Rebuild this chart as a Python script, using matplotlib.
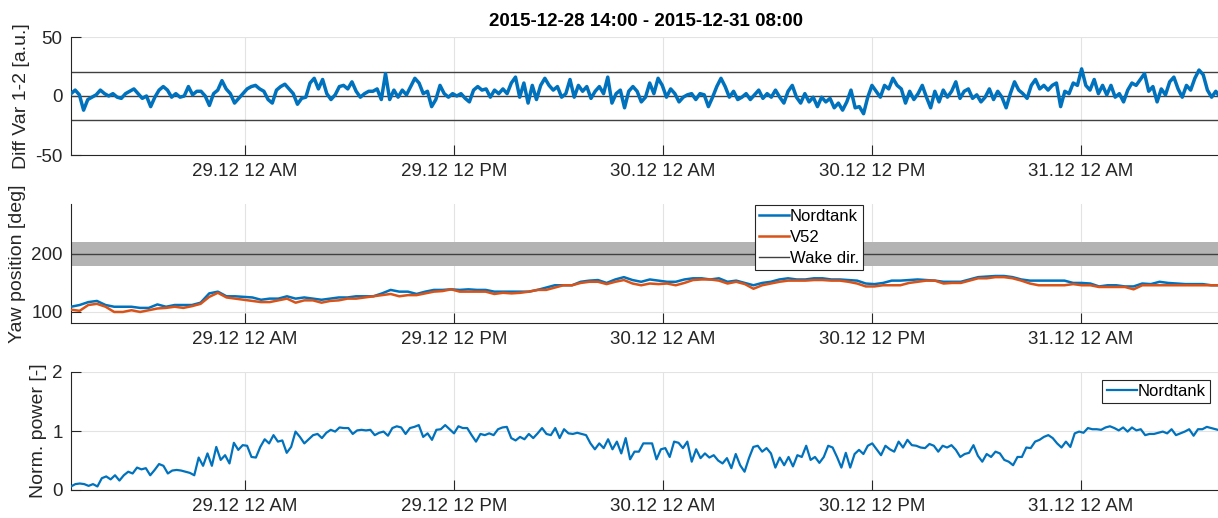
import numpy as np
import pandas as pd
import matplotlib
matplotlib.use('Agg')
import matplotlib.pyplot as plt
import matplotlib.dates as mdates

plt.rcParams['font.family'] = ['Liberation Sans', 'DejaVu Sans']
plt.rcParams['axes.unicode_minus'] = False

T_START = pd.Timestamp('2015-12-28 14:00')
T_END = pd.Timestamp('2015-12-31 08:00')

# difference signal (panel 1)
diff_var = [2, 5, 1, -12, -3, -1, 1, 5, 2, 0, 2, -1, -2, 2, 4, 6, 2, -2, 0, -9,
            -1, 5, 8, 5, -1, 2, -1, 0, 8, 1, 4, 4, 0, -8, 2, 5, 13, 6, 2, -6,
            -2, 2, 6, 8, 9, 6, 4, -3, -6, 5, 8, 10, 6, 2, -7, -2, -1, 11, 15, 6,
            14, 2, -3, 1, 8, 9, 6, 12, 4, -1, 2, 4, 4, 6, -3, 19, -3, 5, -1, 5,
            1, 8, 15, 11, 2, 4, -9, -3, 9, 2, -1, 2, 0,
            2, -2, -5, 5, 8, 5, 6, -1, 5, 2, 6, 2, 11, 16, -1, 11, -6, 9, -3, 9,
            15, 9, 5, 8, -1, 2, 14, -1, 9, 4, 8, -2, 4, 8, 2, 16, -6, 2, 5, -10,
            4, 8, 4, -5, -1, 11, 2, 15, 9, -1, 6, 2, -5, -1, 1, 2, -3, 2, 1, -9,
            -1, 8, 15, 8, -1, 4, -3, -1, 2, -3, 1, 5, -2, 2, -1, 5, -1, -6, 4, 9,
            -1, -6, 2, -5, -1, -9, -1, -5, -2, -10, -6,
            -12, -5, 5, -10, -9, -15, -1, 9, 4, -1, 9, 6, 15, 9, 6, -6, 4, -3, 2, 9,
            -1, -10, 4, -5, 5, -1, 4, 12, -2, 4, 6, -2, 1, -5, -1, 6, -3, 4, -1, -10,
            2, 12, 5, 2, -2, 9, 14, 6, 9, 5, 9, 11, -9, 4, 2, 11, 9, 23, 9, 5,
            14, 2, 9, 1, 9, -1, 2, -5, 5, 11, 9, 14, 19, 4, 8, -5, 6, 1, 12, 16,
            6, -1, 9, 5, 15, 22, 18, 5, -1, 4, -1]
diff_limits = [-20, 0, 20]

# yaw positions (panel 2)
yaw_nordtank = [109, 112, 117, 119, 112, 109, 109, 109, 107, 107,
                113, 109, 112, 112, 112, 116, 132, 135, 127, 127,
                126, 125, 121, 123, 123, 127, 123, 125, 123, 121,
                123, 125, 125, 127, 127, 127, 132, 138, 135, 135,
                131, 135, 138, 138, 139, 138, 139, 138, 138, 135,
                135, 135, 135, 135, 138, 142, 146, 146, 146, 152,
                154, 155, 150,
                156, 160, 155, 152, 156, 154, 152, 152, 156, 158,
                158, 156, 158, 152, 154, 150, 146, 150, 152, 156,
                158, 156, 156, 158, 158, 156, 156, 155, 154, 149,
                148, 150, 154, 154, 155, 156, 155, 154, 152, 152,
                152, 156, 160, 161, 162, 162, 160, 156, 154, 154,
                154, 154, 154, 150, 150, 149, 144, 146, 146, 144,
                144, 149, 148, 152, 150, 149, 148, 148, 148, 146, 146]
yaw_v52 = [104, 102, 112, 114, 109, 100, 100, 103, 100, 103,
           106, 107, 109, 107, 110, 114, 126, 133, 125, 123,
           121, 119, 117, 117, 120, 123, 116, 120, 120, 116,
           119, 120, 123, 123, 125, 127, 129, 131, 127, 129,
           129, 132, 135, 136, 139, 135, 135, 135, 135, 131,
           133, 132, 133, 135, 138, 138, 142, 146, 146, 150,
           152, 152, 148,
           152, 155, 149, 146, 149, 148, 149, 146, 150, 155,
           156, 156, 154, 149, 152, 148, 140, 146, 149, 152,
           154, 154, 154, 155, 155, 154, 154, 152, 149, 144,
           144, 146, 146, 146, 150, 152, 154, 154, 149, 150,
           150, 154, 158, 158, 160, 160, 158, 154, 149, 146,
           146, 146, 146, 148, 146, 146, 143, 143, 143, 143,
           139, 146, 146, 146, 146, 146, 146, 146, 146, 146, 146]
wake_dir = 200
wake_halfwidth = 20

# normalised power (panel 3)
norm_power = [0.06, 0.10, 0.11, 0.10, 0.07, 0.10, 0.06, 0.20, 0.23, 0.18,
              0.25, 0.16, 0.25, 0.31, 0.28, 0.38, 0.35, 0.37, 0.25, 0.34,
              0.44, 0.41, 0.28, 0.33, 0.34, 0.33, 0.31, 0.29, 0.25, 0.55,
              0.41, 0.62, 0.41, 0.73, 0.51, 0.59, 0.45, 0.80, 0.68, 0.76,
              0.75, 0.56, 0.55, 0.73, 0.86, 0.79, 0.93, 0.82, 0.84, 0.63,
              0.73, 0.99, 0.90, 0.79, 0.86, 0.93, 0.95, 0.88, 0.97, 1.02,
              0.99, 1.06, 1.05, 1.05, 0.95, 1.01, 1.02, 1.01, 1.02, 0.93,
              0.97, 0.99, 0.92, 1.05, 1.08, 1.06, 0.95, 1.05, 1.07, 1.10,
              0.90, 0.96, 0.85, 1.02, 1.03, 1.10, 1.03, 0.96, 1.08, 1.05,
              1.05, 0.93, 0.82, 0.95, 0.93, 0.96, 0.93, 1.03, 1.06, 1.07,
              0.88, 0.84, 0.90, 0.86, 0.95, 0.88, 0.96, 1.05, 0.95, 0.93,
              1.05, 0.88, 1.03, 0.96, 0.95, 0.97, 0.95, 0.93, 0.79, 0.69,
              0.79, 0.71, 0.86, 0.69, 0.82, 0.62, 0.88, 0.52, 0.65, 0.65, 0.79,
              0.79, 0.79, 0.52, 0.69, 0.71, 0.56, 0.82, 0.80, 0.71, 0.82,
              0.48, 0.69, 0.54, 0.62, 0.55, 0.59, 0.50, 0.45, 0.54, 0.37,
              0.61, 0.42, 0.31, 0.54, 0.73, 0.75, 0.65, 0.71, 0.62, 0.38,
              0.55, 0.42, 0.56, 0.40, 0.59, 0.56, 0.75, 0.51, 0.56, 0.46,
              0.56, 0.75, 0.72, 0.56, 0.38, 0.63, 0.38, 0.61, 0.68, 0.61,
              0.75, 0.79, 0.69, 0.59, 0.75, 0.69, 0.65, 0.82, 0.72, 0.85,
              0.76, 0.75, 0.72, 0.71, 0.78, 0.75, 0.65, 0.75, 0.72, 0.76,
              0.68, 0.56, 0.61, 0.63, 0.76, 0.58, 0.48, 0.61, 0.56, 0.65,
              0.62, 0.51, 0.48, 0.42, 0.56, 0.56, 0.72, 0.71, 0.82, 0.85,
              0.90, 0.93, 0.88, 0.79, 0.72, 0.82, 0.73, 0.96, 0.99, 0.97,
              1.05, 1.03, 1.03, 1.02, 1.06, 1.08, 1.05, 1.01, 1.06, 0.99,
              1.06, 1.01, 1.03, 0.93, 0.95, 0.95, 0.97, 0.99, 0.96, 1.03,
              0.93, 0.96, 0.99, 1.03, 0.92, 1.03, 1.03, 1.07, 1.05, 1.03, 1.01]

BLUE = '#0072BD'
ORANGE = '#D95319'
AXC = '#262626'
GRIDC = '#E3E3E3'


def times_for(vals):
    return pd.date_range(T_START, T_END, periods=len(vals))


def style_axis(ax):
    for s in ['top', 'right']:
        ax.spines[s].set_visible(False)
    for s in ['left', 'bottom']:
        ax.spines[s].set_color(AXC)
        ax.spines[s].set_linewidth(0.8)
    ax.set_xlim(T_START, T_END)
    ax.xaxis.set_major_locator(mdates.HourLocator(byhour=[0, 12]))
    ax.xaxis.set_major_formatter(mdates.DateFormatter('%d.%m %I %p'))
    ax.tick_params(direction='in', length=7, width=0.8, colors=AXC,
                   labelsize=13.5, pad=6)
    ax.grid(True, color=GRIDC, linewidth=0.8)
    ax.set_axisbelow(True)


def make_legend(ax, handles, anchor, loc):
    leg = ax.legend(handles=handles, loc=loc, bbox_to_anchor=anchor,
                    fontsize=12, fancybox=False, framealpha=1, edgecolor=AXC,
                    borderpad=0.25, handlelength=1.8, handletextpad=0.05,
                    labelspacing=0.35, borderaxespad=0)
    leg.get_frame().set_linewidth(0.8)
    return leg


fig = plt.figure(figsize=(12.18, 5.18), dpi=100)
W, H = 1218.0, 518.0
left = 71 / W
width = 1149 / W
ax1 = fig.add_axes([left, (H - 155) / H, width, 118 / H])
ax2 = fig.add_axes([left, (H - 323) / H, width, 119 / H])
ax3 = fig.add_axes([left, (H - 490) / H, width, 118 / H])

# panel 1
style_axis(ax1)
for lim in diff_limits:
    ax1.axhline(lim, color='#404040', linewidth=1.0, zorder=2)
ax1.plot(times_for(diff_var), diff_var, color=BLUE, linewidth=2.5, zorder=3)
ax1.set_ylim(-50, 50)
ax1.set_yticks([-50, 0, 50])
ax1.set_ylabel('Diff Var 1-2 [a.u.]', fontsize=14, color=AXC)
ax1.set_title('2015-12-28 14:00 - 2015-12-31 08:00', fontsize=13.5,
              fontweight='bold', pad=8)

# panel 2
style_axis(ax2)
ax2.axhspan(wake_dir - wake_halfwidth, wake_dir + wake_halfwidth,
            color='#B3B3B3', linewidth=0, zorder=1)
l1, = ax2.plot(times_for(yaw_nordtank), yaw_nordtank, color=BLUE,
               linewidth=1.8, zorder=3, label='Nordtank')
l2, = ax2.plot(times_for(yaw_v52), yaw_v52, color=ORANGE,
               linewidth=1.8, zorder=3, label='V52')
l3 = ax2.axhline(wake_dir, color='#404040', linewidth=1.0, zorder=2,
                 label='Wake dir.')
ax2.set_ylim(81, 286)
ax2.set_yticks([100, 200])
ax2.set_ylabel('Yaw position [deg]', fontsize=14, color=AXC)
make_legend(ax2, [l1, l2, l3], (0.595, 0.992), 'upper left')

# panel 3
style_axis(ax3)
l4, = ax3.plot(times_for(norm_power), norm_power, color=BLUE,
               linewidth=1.6, zorder=3, label='Nordtank')
ax3.set_ylim(0, 2)
ax3.set_yticks([0, 1, 2])
ax3.set_ylabel('Norm. power [-]', fontsize=14, color=AXC)
make_legend(ax3, [l4], (0.991, 0.932), 'upper right')

fig.savefig('out.png', dpi=100)
